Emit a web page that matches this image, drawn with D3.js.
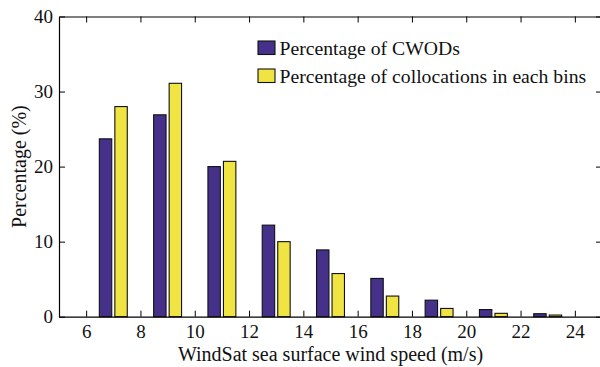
<!DOCTYPE html>
<html>
<head>
<meta charset="utf-8">
<script src="https://cdn.jsdelivr.net/npm/d3@7"></script>
<style>
  html, body { margin: 0; padding: 0; background: #fff; }
  svg { display: block; font-family: "Liberation Serif", "Times New Roman", serif; }
</style>
</head>
<body>
<svg id="chart" width="600" height="367"></svg>
<script>
// Wind-speed bin centres (m/s)
const binCenters = [7, 9, 11, 13, 15, 17, 19, 21, 23];
// Percentage of CWODs per bin
const cwodPct = [23.7, 26.9, 20.0, 12.2, 8.9, 5.1, 2.2, 0.95, 0.4];
// Percentage of collocations per bin
const collocPct = [28.0, 31.1, 20.7, 10.0, 5.75, 2.75, 1.1, 0.45, 0.22];
// Axis ticks
const xTicks = [6, 8, 10, 12, 14, 16, 18, 20, 22, 24];
const yTicks = [0, 10, 20, 30, 40];
const seriesNames = ["Percentage of CWODs", "Percentage of collocations in each bins"];
const seriesColors = ["#46318a", "#f0e442"];

const FONT = "'Liberation Serif', 'Times New Roman', serif";
const svg = d3.select("#chart");
const margin = { left: 59, right: -2, top: 16.5, bottom: 50.3 };
const W = 600, H = 367;
const x0 = margin.left, x1 = W - margin.right;
const y0 = H - margin.bottom, y1 = margin.top;

const x = d3.scaleLinear().domain([5, 25]).range([x0, x1]);
const y = d3.scaleLinear().domain([0, 40]).range([y0, y1]);

// Grouped-bar geometry: two bars per group around each bin centre
const groupWidth = 2 / 3.5;              // fraction of bin spacing
const binSpacing = 2;
const barW = groupWidth / 2 * binSpacing * 0.8; // in data units
const offsets = [-groupWidth / 4 * binSpacing, groupWidth / 4 * binSpacing];

const series = [cwodPct, collocPct];
series.forEach((vals, si) => {
  svg.append("g")
    .selectAll("rect")
    .data(binCenters.map((c, i) => ({ c, v: vals[i] })))
    .join("rect")
    .attr("x", d => x(d.c + offsets[si] - barW / 2))
    .attr("width", d => x(d.c + offsets[si] + barW / 2) - x(d.c + offsets[si] - barW / 2))
    .attr("y", d => y(d.v))
    .attr("height", d => y(0) - y(d.v))
    .attr("fill", seriesColors[si])
    .attr("stroke", "#111")
    .attr("stroke-width", 1.1);
});

const tickFont = 19;
const styleAxis = g => {
  g.attr("font-family", FONT);
  g.selectAll("path.domain").attr("stroke", "#000").attr("stroke-width", 1.2);
  g.selectAll(".tick line").attr("stroke", "#000").attr("stroke-width", 1);
  g.selectAll("text").attr("font-size", tickFont).attr("font-family", FONT).attr("fill", "#111");
};

// Bottom axis
svg.append("g")
  .attr("transform", `translate(0,${y0})`)
  .call(d3.axisBottom(x).tickValues(xTicks).tickSizeInner(-6).tickSizeOuter(0).tickPadding(7.5))
  .call(styleAxis);
// Top axis (ticks only)
svg.append("g")
  .attr("transform", `translate(0,${y1})`)
  .call(d3.axisTop(x).tickValues(xTicks).tickSizeInner(-6).tickSizeOuter(0).tickFormat(""))
  .call(styleAxis);
// Left axis
svg.append("g")
  .attr("transform", `translate(${x0},0)`)
  .call(d3.axisLeft(y).tickValues(yTicks).tickSizeInner(-6).tickSizeOuter(0).tickPadding(6))
  .call(styleAxis);
// Right axis (ticks only)
svg.append("g")
  .attr("transform", `translate(${x1},0)`)
  .call(d3.axisRight(y).tickValues(yTicks).tickSizeInner(-6).tickSizeOuter(0).tickFormat(""))
  .call(styleAxis);

// Axis titles
svg.append("text")
  .attr("x", (x0 + x1) / 2)
  .attr("y", 360.7)
  .attr("text-anchor", "middle")
  .attr("font-family", FONT)
  .attr("font-size", 20)
  .attr("fill", "#111")
  .text("WindSat sea surface wind speed (m/s)");

svg.append("text")
  .attr("transform", `translate(26,${(y0 + y1) / 2}) rotate(-90)`)
  .attr("text-anchor", "middle")
  .attr("font-family", FONT)
  .attr("font-size", 20)
  .attr("fill", "#111")
  .text("Percentage (%)");

// Legend
const legend = svg.append("g").attr("transform", "translate(258,41)");
seriesNames.forEach((name, i) => {
  const row = legend.append("g").attr("transform", `translate(0,${i * 28})`);
  row.append("rect")
    .attr("width", 17).attr("height", 13.5)
    .attr("fill", seriesColors[i])
    .attr("stroke", "#111").attr("stroke-width", 1.1);
  row.append("text")
    .attr("x", 21.5).attr("y", 7).attr("dy", "0.35em")
    .attr("font-family", FONT)
    .attr("font-size", 19.7)
    .attr("fill", "#111")
    .text(name);
});
</script>
</body>
</html>
